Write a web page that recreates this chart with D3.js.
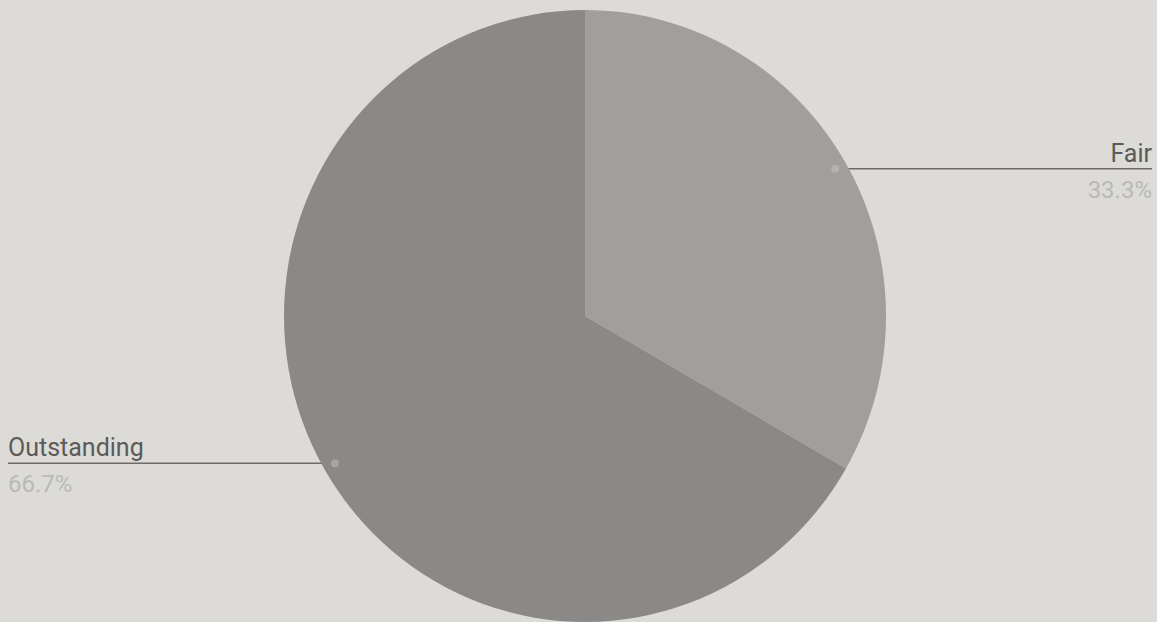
<!DOCTYPE html>
<html>
<head>
<meta charset="utf-8">
<script src="https://cdn.jsdelivr.net/npm/d3@7"></script>
<style>
  html, body { margin: 0; padding: 0; background: #dcdbd7; }
  svg { display: block; }
</style>
</head>
<body>
<div id="chart"></div>
<script>
const categories = ['Fair', 'Outstanding'];
const values = [33.3, 66.7];
const percentLabels = ['33.3%', '66.7%'];
const colors = ['#a09f9c', '#8a8987'];

document.addEventListener('DOMContentLoaded', function () {
  const width = 1157, height = 622;
  const cx = 585, cy = 316, rx = 301, ry = 306;

  const svg = d3.select('#chart')
    .append('svg')
    .attr('width', width)
    .attr('height', height);

  svg.append('rect')
    .attr('width', width)
    .attr('height', height)
    .attr('fill', '#dcdbd7');

  const data = categories.map((c, i) => ({ name: c, value: values[i], pct: percentLabels[i], color: colors[i] }));

  const pie = d3.pie().sort(null).value(d => d.value);
  const arcs = pie(data);
  const arc = d3.arc().innerRadius(0).outerRadius(rx);
  const dotArc = d3.arc().innerRadius(rx * 0.96).outerRadius(rx * 0.96);
  const sy = ry / rx;

  const lines = svg.append('g');
  const g = svg.append('g').attr('transform', `translate(${cx},${cy}) scale(1,${sy})`);

  g.selectAll('path')
    .data(arcs)
    .join('path')
    .attr('d', arc)
    .attr('fill', d => d.data.color);

  // leader lines (under the pie) and labels
  arcs.forEach(d => {
    const [px, py] = dotArc.centroid(d);
    const right = px > 0;
    const x0 = cx + px, y0 = cy + py * sy;
    const xEnd = right ? 1152 : 8;

    lines.append('line')
      .attr('x1', x0).attr('y1', y0)
      .attr('x2', xEnd).attr('y2', y0)
      .attr('stroke', '#6c6b69')
      .attr('stroke-width', 1.5);

    svg.append('circle')
      .attr('cx', x0).attr('cy', y0)
      .attr('r', 4)
      .attr('fill', right ? '#b3b2af' : '#a6a5a2');

    svg.append('text')
      .attr('x', xEnd).attr('y', y0 - 7)
      .attr('text-anchor', right ? 'end' : 'start')
      .attr('font-family', 'Roboto, sans-serif')
      .attr('font-size', 25)
      .attr('fill', '#5b5a58')
      .text(d.data.name);

    svg.append('text')
      .attr('x', xEnd).attr('y', y0 + 29)
      .attr('text-anchor', right ? 'end' : 'start')
      .attr('font-family', 'Roboto, sans-serif')
      .attr('font-size', 24)
      .attr('fill', '#bab9b6')
      .text(d.data.pct);
  });
});
</script>
</body>
</html>
